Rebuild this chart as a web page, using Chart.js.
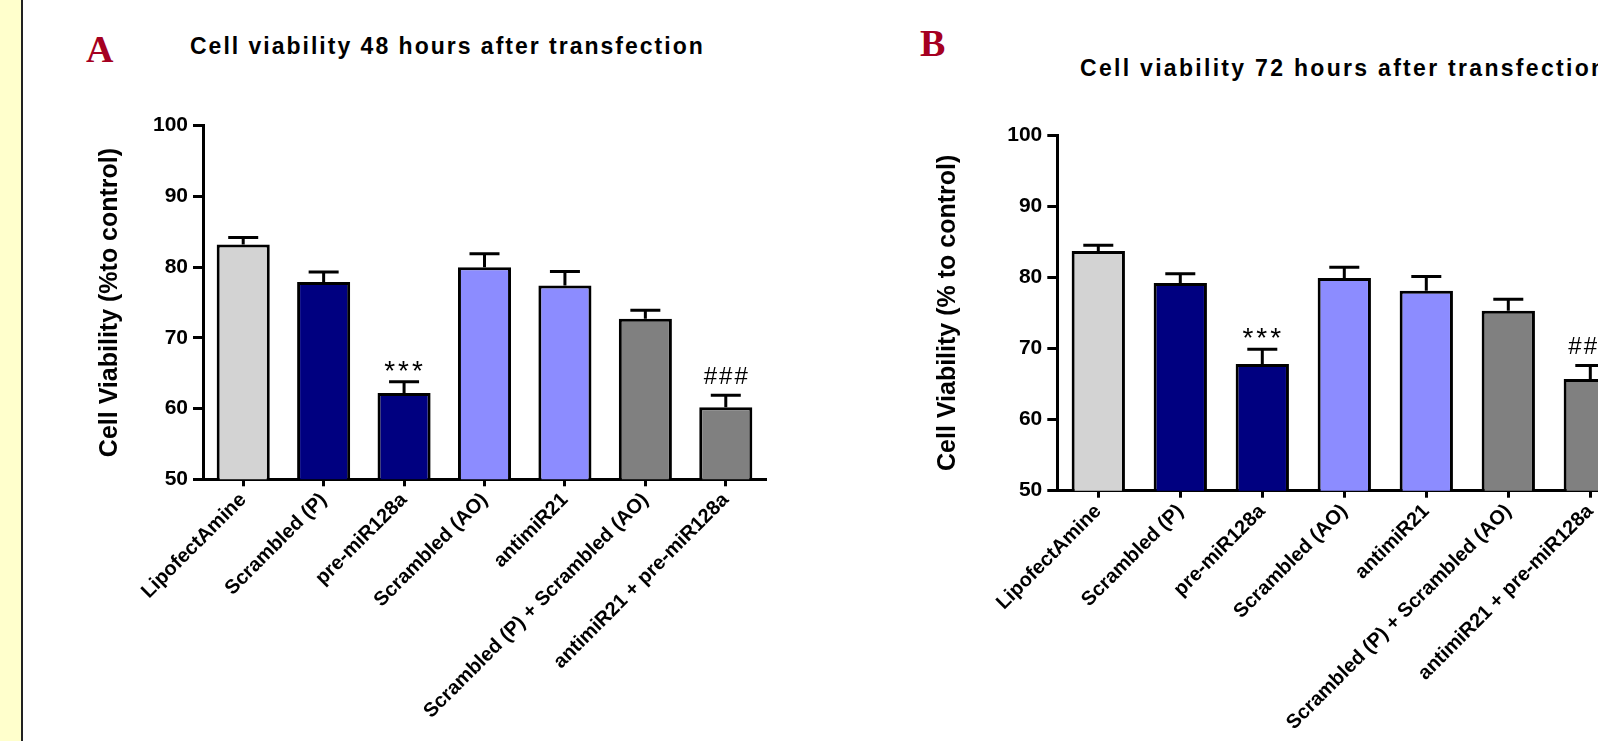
<!DOCTYPE html>
<html>
<head>
<meta charset="utf-8">
<title>Cell viability after transfection</title>
<script src="https://cdn.jsdelivr.net/npm/chart.js@4.4.1/dist/chart.umd.min.js"></script>
<style>
  html, body { margin: 0; padding: 0; width: 1598px; height: 741px; overflow: hidden; background: #fff; }
  .strip { position: absolute; left: 0; top: 0; width: 21px; height: 741px; background: #ffffcc; border-right: 2px solid #222; }
  .panel-letter { position: absolute; font: bold 38px/38px "Liberation Serif", "Times New Roman", serif; color: #a50021; }
  .chart-title { position: absolute; font: bold 23px/23px "Liberation Sans", Arial, sans-serif; letter-spacing: 2px; color: #000; white-space: nowrap; }
  canvas { position: absolute; top: 0; }
</style>
</head>
<body>
<div class="strip"></div>
<div class="panel-letter" style="left:86px; top:30px;">A</div>
<div class="panel-letter" style="left:920px; top:24px;">B</div>
<div class="chart-title" style="left:190px; top:35px;">Cell viability 48 hours after transfection</div>
<div class="chart-title" style="left:1080px; top:57px; letter-spacing:2.3px;">Cell viability 72 hours after transfection</div>
<canvas id="chart48" style="left:0px;"></canvas>
<canvas id="chart72" style="left:880px;"></canvas>
<script>
// Treatment groups (x categories)
const categories = [
  'LipofectAmine',
  'Scrambled (P)',
  'pre-miR128a',
  'Scrambled (AO)',
  'antimiR21',
  'Scrambled (P) + Scrambled (AO)',
  'antimiR21 + pre-miR128a'
];

// Mean cell viability (% of control) and SEM, 48 h
const viability48 = [83.2, 77.9, 62.2, 80.0, 77.4, 72.7, 60.2];
const sem48 = [1.0, 1.4, 1.6, 1.9, 2.0, 1.2, 1.7];
const marks48 = ['', '', '***', '', '', '', '###'];

// Mean cell viability (% of control) and SEM, 72 h
const viability72 = [83.7, 79.2, 67.8, 79.9, 78.1, 75.3, 65.7];
const sem72 = [0.8, 1.3, 2.1, 1.5, 2.0, 1.6, 1.9];
const marks72 = ['', '', '***', '', '', '', '###'];

// Y axis range and tick step
const yMin = 50;
const yMax = 100;
const yStep = 10;

// Bar fill per group
const barColors = ['#d3d3d3', '#000080', '#000080', '#8c8cff', '#8c8cff', '#808080', '#808080'];

const FONT = '"Liberation Sans", Arial, sans-serif';

// Draws SEM whiskers and significance marks on top of each bar
const errorBarPlugin = {
  id: 'errorBars',
  afterDatasetsDraw(chart, args, opts) {
    const { ctx } = chart;
    const yScale = chart.scales.y;
    const meta = chart.getDatasetMeta(0);
    const values = chart.data.datasets[0].data;
    ctx.save();
    ctx.strokeStyle = '#000';
    ctx.fillStyle = '#000';
    ctx.lineWidth = 3;
    ctx.lineCap = 'butt';
    meta.data.forEach((bar, i) => {
      const top = yScale.getPixelForValue(values[i] + opts.errors[i]);
      ctx.beginPath();
      ctx.moveTo(bar.x, bar.y);
      ctx.lineTo(bar.x, top);
      ctx.moveTo(bar.x - 15, top);
      ctx.lineTo(bar.x + 15, top);
      ctx.stroke();
      const mark = opts.marks[i];
      if (mark) {
        const isStar = mark.charAt(0) === '*';
        ctx.font = (isStar ? '28px ' : '24px ') + FONT;
        if ('letterSpacing' in ctx) ctx.letterSpacing = isStar ? '3px' : '2px';
        ctx.textAlign = 'center';
        ctx.textBaseline = 'alphabetic';
        const m = ctx.measureText(mark);
        ctx.fillText(mark, bar.x + 1, top - 11 - m.actualBoundingBoxDescent);
      }
    });
    ctx.restore();
  }
};

function makeChart(id, width, values, errors, marks, yTitle, geom) {
  const canvas = document.getElementById(id);
  canvas.width = width;
  canvas.height = 741;
  canvas.style.width = width + 'px';
  canvas.style.height = '741px';
  return new Chart(canvas, {
    type: 'bar',
    data: {
      labels: categories,
      datasets: [{
        data: values,
        backgroundColor: barColors,
        borderColor: '#000',
        borderWidth: 3,
        borderSkipped: false,
        barPercentage: geom.barPct,
        categoryPercentage: 1
      }]
    },
    options: {
      responsive: false,
      animation: false,
      devicePixelRatio: 1,
      layout: { padding: { left: geom.padLeft, right: geom.padRight, top: geom.padTop, bottom: geom.padBottom } },
      plugins: {
        legend: { display: false },
        tooltip: { enabled: false },
        title: { display: false },
        errorBars: { errors: errors, marks: marks }
      },
      scales: {
        x: {
          offset: true,
          afterFit: s => { s.height = geom.xHeight; },
          grid: { display: true, offset: false, drawOnChartArea: false, drawTicks: true, tickLength: 7, tickWidth: 3, tickColor: '#000' },
          border: { display: true, width: 3, color: '#000' },
          ticks: {
            autoSkip: false, maxRotation: 45, minRotation: 45, padding: 2,
            color: '#000', font: { family: FONT, size: 20, weight: 'bold' }
          }
        },
        y: {
          min: yMin, max: yMax,
          afterFit: s => { s.width = geom.yWidth; },
          grid: { display: true, drawOnChartArea: false, drawTicks: true, tickLength: 10, tickWidth: 3, tickColor: '#000' },
          border: { display: true, width: 3, color: '#000' },
          ticks: {
            stepSize: yStep, padding: 5, color: '#000',
            font: { family: FONT, size: 21, weight: 'bold' }
          },
          title: {
            display: true, text: yTitle, color: '#000',
            font: { family: FONT, size: 25, weight: 'bold' },
            padding: { top: geom.yTitlePad, bottom: 0 }
          }
        }
      }
    },
    plugins: [errorBarPlugin]
  });
}

makeChart('chart48', 880, viability48, sem48, marks48, 'Cell Viability (%to control)', {
  padLeft: 88, padRight: 114, padTop: 125.7, padBottom: 1,
  yWidth: 115, xHeight: 260.7, yTitlePad: 7, barPct: 0.66
});

makeChart('chart72', 800, viability72, sem72, marks72, 'Cell Viability (% to control)', {
  padLeft: 40, padRight: 48.7, padTop: 135, padBottom: 0,
  yWidth: 137.3, xHeight: 250.3, yTitlePad: 13, barPct: 0.65
});
</script>
</body>
</html>
